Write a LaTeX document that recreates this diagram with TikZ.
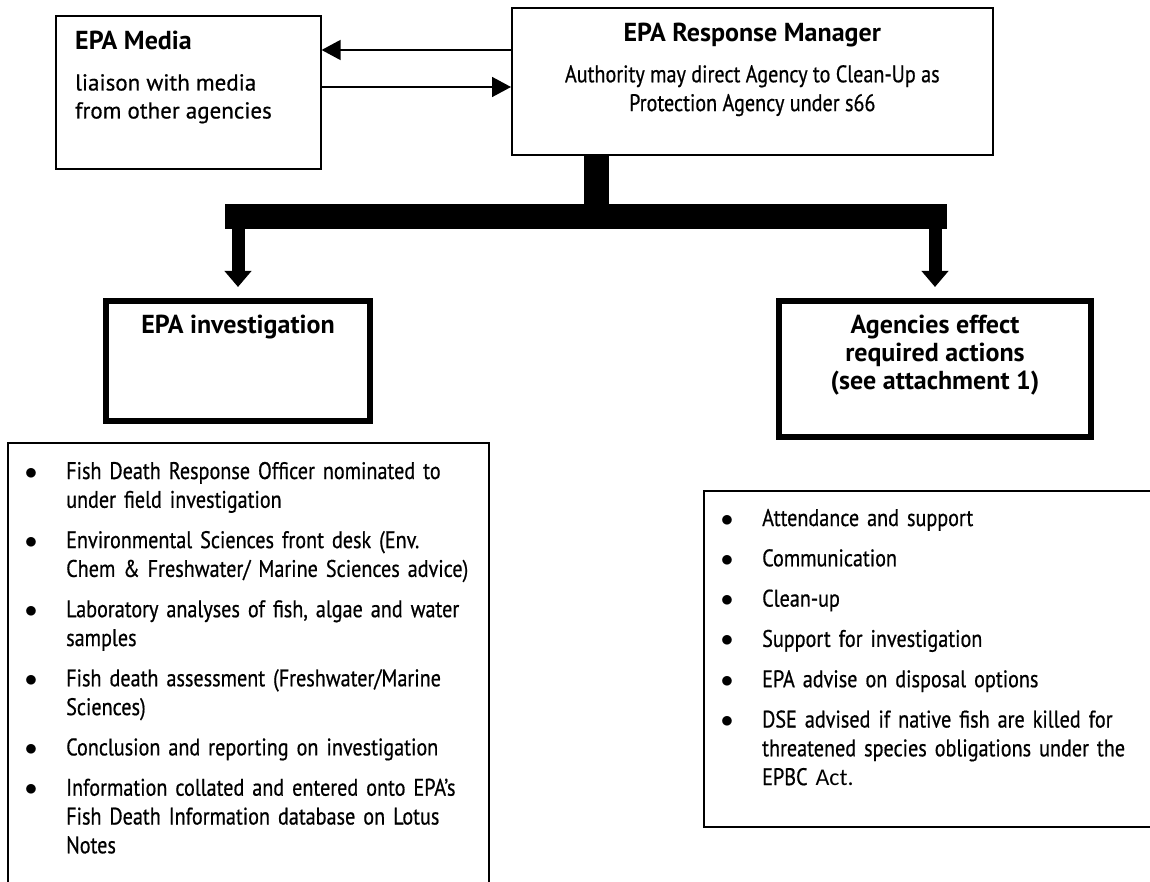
\documentclass[tikz,border=0pt]{standalone}
\usepackage{fontspec}
\setmainfont{PT Sans}[FakeStretch=0.84, FakeBold=0.6]
\newfontfamily\headfont{PT Sans}
\newfontfamily\widefont{PT Sans}[FakeBold=0.6]
\newfontfamily\actfont{Carlito}
\usetikzlibrary{arrows.meta,positioning}

% bullet list used inside the two lower boxes
\newenvironment{dotlist}{\begin{list}{$\bullet$}{%
    \setlength\leftmargin{46pt}\setlength\labelwidth{16pt}%
    \setlength\labelsep{29pt}\setlength\itemsep{11.5pt}%
    \setlength\topsep{0pt}\setlength\parsep{0pt}%
    \setlength\partopsep{0pt}\setlength\itemindent{0pt}}\raggedright}%
  {\end{list}}

\begin{document}
\begin{tikzpicture}[x=1pt, y=-1pt, >={Triangle[length=19pt,width=20pt]},
    thinbox/.style={draw, line width=1.6pt, anchor=north west, inner sep=0pt},
    thickbox/.style={draw, line width=6pt, anchor=north west, inner sep=0pt},
    title/.style={font=\headfont\fontsize{26}{28}\bfseries\selectfont, inner sep=0pt},
    body/.style={font=\fontsize{24}{28.8}\selectfont, inner sep=0pt},
    arrow/.style={->, line width=1.6pt},
    fatarrow/.style={-{Triangle[length=16pt,width=26pt]}, line width=13pt},
    bar/.style={line width=25pt}]
    \useasboundingbox (0,0) rectangle (1150,882);

    % boxes
    \node[thinbox, minimum width=265pt, minimum height=153pt] (media) at (55,15) {};
    \node[thinbox, minimum width=481pt, minimum height=147pt] (manager) at (511,7) {};
    \node[thickbox, minimum width=264pt, minimum height=120pt] (invest) at (103,298) {};
    \node[thickbox, minimum width=312pt, minimum height=136pt] (agencies) at (776,298) {};
    \node[thinbox, minimum width=481pt, minimum height=470pt] (investbox) at (7,442) {};
    \node[thinbox, minimum width=470pt, minimum height=336pt] (actionbox) at (703,490) {};

    % texts
    \node[title, anchor=base west] (mediahead) at ([shift={(20,35)}]media.north west) {EPA Media};
    \node[body, font=\widefont\fontsize{23}{28}\selectfont, anchor=north west, align=left]
        (mediatext) at ([shift={(20,59)}]media.north west) {liaison with media\\from other agencies};
    \node[title, anchor=base] (managerhead) at ([yshift=-35pt]manager.north) {EPA Response Manager};
    \node[body, anchor=north, align=center] (managertext) at ([yshift=-58pt]manager.north)
        {Authority may direct Agency to Clean-Up as\\Protection Agency under s66};
    \node[title, anchor=base] (investhead) at ([yshift=-35pt]invest.north) {EPA investigation};
    \node[title, anchor=north, align=center] (agenciestext) at ([yshift=-17pt]agencies.north)
        {Agencies effect\\required actions\\(see attachment 1)};

    \node[body, anchor=north west, text width=460pt] (investlist) at ([shift={(13,8)}]investbox.north west) {%
      \begin{dotlist}
        \item Fish Death Response Officer nominated to\\under field investigation
        \item Environmental Sciences front desk (Env.\\Chem \& Freshwater/ Marine Sciences advice)
        \item Laboratory analyses of fish, algae and water\\samples
        \item Fish death assessment (Freshwater/Marine\\Sciences)
        \item Conclusion and reporting on investigation
        \item Information collated and entered onto EPA’s\\Fish Death Information database on Lotus\\Notes
      \end{dotlist}};
    \node[body, anchor=north west, text width=430pt] (actionlist) at ([shift={(13,7)}]actionbox.north west) {%
      \begin{dotlist}
        \item Attendance and support
        \item Communication
        \item Clean-up
        \item Support for investigation
        \item EPA advise on disposal options
        \item DSE advised if native fish are killed for\\threatened species obligations under the\\EPBC {\actfont Act.}
      \end{dotlist}};

    % media <-> manager
    \coordinate (upperout) at ([yshift=-43pt]manager.north west);
    \coordinate (lowerout) at ([yshift=-72pt]media.north east);
    \draw[arrow] (upperout) -- (upperout -| media.east);
    \draw[arrow] (lowerout) -- (lowerout -| manager.west);

    % manager -> both branches
    \coordinate (split) at ([shift={(-156,60.5)}]manager.south);
    \draw[bar] ([xshift=-156pt]manager.south) -- (split);
    \draw[bar] ([xshift=-13pt]split -| invest.north) -- ([xshift=12pt]split -| agencies.north);
    \draw[fatarrow] ([yshift=-12.5pt]split -| invest.north) -- ([yshift=11pt]invest.north);
    \draw[fatarrow] ([yshift=-12.5pt]split -| agencies.north) -- ([yshift=11pt]agencies.north);
\end{tikzpicture}
\end{document}
